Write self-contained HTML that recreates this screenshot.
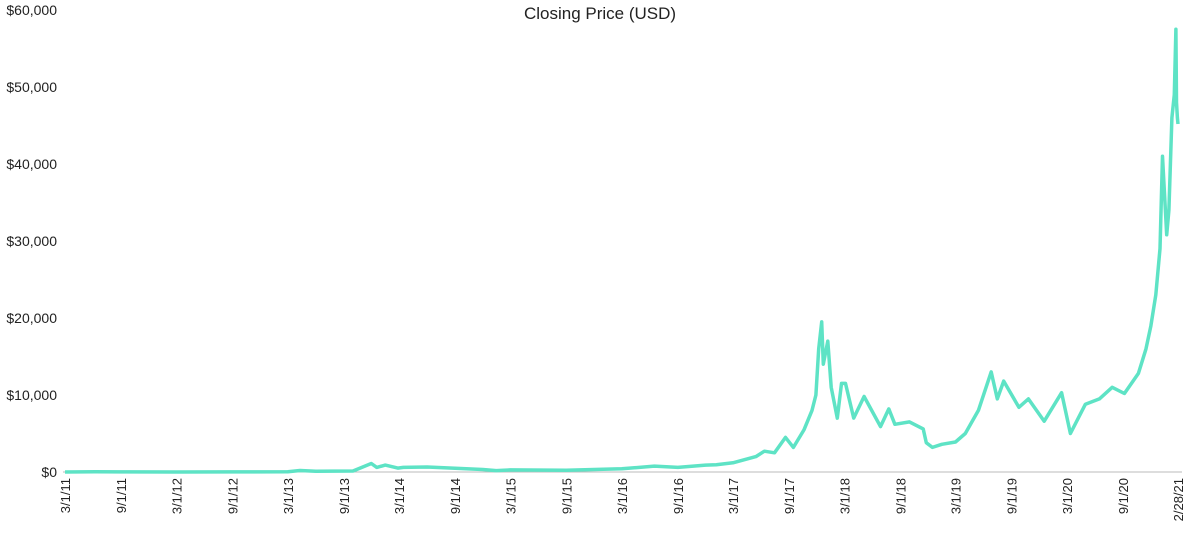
<!DOCTYPE html>
<html><head><meta charset="utf-8"><style>
body{margin:0;background:#fff;width:1200px;height:532px;overflow:hidden;font-family:"Liberation Sans",sans-serif;}
svg text{font-family:"Liberation Sans",sans-serif;fill:#222;}
</style></head><body>
<svg id="chart" width="1200" height="532" xmlns="http://www.w3.org/2000/svg">
<text x="600" y="19" text-anchor="middle" font-size="17">Closing Price (USD)</text>
<g id="yaxis"></g>
<g id="xaxis"></g>
<line x1="63" y1="472" x2="1182" y2="472" stroke="#bbb" stroke-width="1"/>
<polyline id="series" fill="none" stroke="#5ee3c5" stroke-width="3.5" stroke-linejoin="round"/>
</svg>
<script>
const dates=["2011-03-01","2011-06-08","2011-09-01","2012-03-01","2012-09-01","2013-03-01","2013-04-10","2013-06-01","2013-10-01","2013-11-30","2013-12-18","2014-01-15","2014-02-25","2014-03-15","2014-06-01","2014-09-01","2014-12-01","2015-01-14","2015-03-01","2015-09-01","2016-03-01","2016-06-16","2016-09-01","2016-12-01","2017-01-05","2017-03-01","2017-05-15","2017-06-12","2017-07-15","2017-08-20","2017-09-15","2017-10-20","2017-11-15","2017-11-28","2017-12-07","2017-12-17","2017-12-22","2018-01-06","2018-01-17","2018-02-06","2018-02-20","2018-03-05","2018-04-01","2018-05-05","2018-06-28","2018-07-25","2018-08-14","2018-10-01","2018-11-15","2018-11-25","2018-12-15","2019-01-15","2019-03-01","2019-04-02","2019-05-15","2019-06-26","2019-07-16","2019-08-06","2019-09-25","2019-10-26","2019-12-17","2020-02-12","2020-03-12","2020-04-30","2020-06-15","2020-07-27","2020-09-05","2020-10-21","2020-11-15","2020-12-01","2020-12-17","2020-12-31","2021-01-08","2021-01-22","2021-01-29","2021-02-08","2021-02-16","2021-02-21","2021-02-23","2021-02-26","2021-02-28"];
const prices=[1,25,8,5,10,34,200,100,125,1100,600,900,500,600,650,480,330,180,270,230,420,760,600,900,950,1200,2000,2700,2500,4500,3200,5500,8000,10000,16000,19500,14000,17000,11000,7000,11500,11500,7000,9800,5900,8200,6200,6500,5600,3800,3200,3600,3900,5000,8000,13000,9500,11800,8400,9500,6600,10300,5000,8800,9500,11000,10200,12800,16000,19000,23000,29000,41000,30800,34000,46000,49000,57500,48000,46000,45200];
const yTicks=[0,10000,20000,30000,40000,50000,60000];
const xTickLabels=["3/1/11","9/1/11","3/1/12","9/1/12","3/1/13","9/1/13","3/1/14","9/1/14","3/1/15","9/1/15","3/1/16","9/1/16","3/1/17","9/1/17","3/1/18","9/1/18","3/1/19","9/1/19","3/1/20","9/1/20","2/28/21"];
const x0=65,x1=1178,yBase=472,yTop=10;
const t0=Date.parse("2011-03-01"),t1=Date.parse("2021-02-28");
function xs(d){return x0+(Date.parse(d)-t0)/(t1-t0)*(x1-x0);}
function ys(v){return yBase-v/60000*(yBase-yTop);}
function parseLbl(l){const p=l.split("/");return "20"+p[2]+"-"+p[0].padStart(2,"0")+"-"+p[1].padStart(2,"0");}
const NS="http://www.w3.org/2000/svg";
const ya=document.getElementById("yaxis");
yTicks.forEach(v=>{
const t=document.createElementNS(NS,"text");


t.setAttribute("x",57);t.setAttribute("y",ys(v)+5);t.setAttribute("text-anchor","end");t.setAttribute("font-size","14");
t.textContent="$"+v.toLocaleString("en-US");ya.appendChild(t);});
const xa=document.getElementById("xaxis");
xTickLabels.forEach(l=>{
const x=xs(parseLbl(l));
const t=document.createElementNS(NS,"text");


t.setAttribute("transform","translate("+(x+5)+",478) rotate(-90)");t.setAttribute("text-anchor","end");t.setAttribute("font-size","13");
t.textContent=l;xa.appendChild(t);});
document.getElementById("series").setAttribute("points",dates.map((d,i)=>xs(d).toFixed(1)+","+ys(prices[i]).toFixed(1)).join(" "));
</script>
</body></html>
